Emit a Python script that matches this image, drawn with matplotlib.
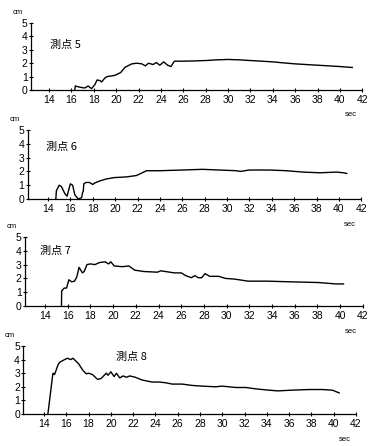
import matplotlib
matplotlib.use('Agg')
import matplotlib.pyplot as plt

plt.rcParams['font.family'] = ['Liberation Sans', 'DejaVu Sans']

# wave height records (sec, cm)
t5 = [16.3, 16.35, 16.8, 17.2, 17.5, 17.8, 18.1, 18.3, 18.55, 18.7, 19.0, 19.2,
      19.6, 19.9, 20.4, 20.8, 21.4, 21.85, 22.3, 22.6, 22.9, 23.3, 23.6, 23.9, 24.25,
      24.6, 24.9, 25.2, 26.0, 27.0, 28.0, 29.0, 30.0, 31.0, 32.0, 33.0, 34.0, 35.0,
      36.0, 37.0, 38.0, 39.0, 40.0, 41.1]
h5 = [0.0, 0.3, 0.2, 0.15, 0.3, 0.1, 0.4, 0.75, 0.7, 0.6, 0.9, 1.0,
      1.05, 1.1, 1.3, 1.7, 1.95, 2.0, 1.95, 1.8, 2.0, 1.9, 2.05, 1.85, 2.1,
      1.85, 1.75, 2.15, 2.15, 2.17, 2.2, 2.25, 2.28, 2.25, 2.2, 2.15, 2.1, 2.02,
      1.95, 1.9, 1.85, 1.8, 1.75, 1.68]

t6 = [14.7, 14.75, 15.0, 15.2, 15.5, 15.7, 16.0, 16.2, 16.4, 16.7, 17.0, 17.1,
      17.15, 17.2, 17.4, 17.7, 18.0, 18.15, 18.6, 19.2, 19.9, 21.0, 21.9, 22.3,
      22.8, 24.0, 26.0, 27.8, 29.3, 30.8, 31.2, 32.0, 33.8, 35.3, 36.8, 38.3,
      39.8, 40.4, 40.7]
h6 = [0.0, 0.6, 1.0, 0.9, 0.4, 0.2, 1.1, 1.0, 0.3, 0.0, 0.1, 0.5,
      0.55, 1.1, 1.2, 1.2, 1.05, 1.15, 1.3, 1.45, 1.55, 1.6, 1.7, 1.85,
      2.05, 2.05, 2.1, 2.15, 2.1, 2.05, 2.0, 2.1, 2.1, 2.05, 1.95, 1.9,
      1.95, 1.9, 1.85]

t7 = [15.45, 15.47, 15.7, 15.9, 16.1, 16.35, 16.6, 16.8, 17.0, 17.3, 17.45,
      17.7, 18.0, 18.4, 18.8, 19.3, 19.6, 19.8, 20.1, 20.8, 21.4, 21.9, 22.7,
      23.9, 24.2, 25.4, 26.0, 26.4, 26.9, 27.2, 27.5, 27.8, 28.1, 28.5, 29.3,
      29.9, 30.7, 31.9, 33.6, 35.7, 38.1, 39.6, 40.3]
h7 = [0.0, 1.1, 1.3, 1.3, 1.9, 1.75, 1.8, 2.1, 2.8, 2.4, 2.5,
      3.0, 3.05, 3.0, 3.15, 3.2, 3.05, 3.2, 2.9, 2.85, 2.9, 2.6, 2.5,
      2.45, 2.55, 2.4, 2.4, 2.2, 2.05, 2.2, 2.05, 2.05, 2.35, 2.15, 2.15,
      2.0, 1.95, 1.8, 1.8, 1.75, 1.7, 1.6, 1.6]

t8 = [14.35, 14.8, 14.95, 15.25, 15.4, 15.85, 16.1, 16.4, 16.6, 17.1, 17.5,
      17.8, 18.0, 18.35, 18.8, 19.1, 19.6, 19.75, 20.0, 20.3, 20.5, 20.8, 21.1,
      21.4, 21.7, 22.2, 22.8, 23.7, 24.3, 24.9, 25.5, 26.4, 27.3, 28.2, 29.4,
      30.0, 31.2, 32.1, 33.0, 34.2, 35.0, 36.2, 37.8, 39.0, 39.9, 40.5]
h8 = [0.0, 3.0, 2.9, 3.6, 3.8, 4.0, 4.1, 4.0, 4.1, 3.7, 3.2,
      2.95, 3.0, 2.9, 2.55, 2.6, 3.0, 2.85, 3.1, 2.75, 3.0, 2.65, 2.8,
      2.7, 2.8, 2.7, 2.5, 2.35, 2.35, 2.3, 2.2, 2.2, 2.1, 2.05, 2.0,
      2.05, 1.95, 1.95, 1.85, 1.75, 1.7, 1.75, 1.8, 1.8, 1.75, 1.55]

labels = ['測点 5', '測点 6', '測点 7', '測点 8']
label_pos = [(14.1, 3.4), (13.85, 3.75), (13.55, 4.0), (20.5, 4.2)]
series = [(t5, h5), (t6, h6), (t7, h7), (t8, h8)]
xticks = list(range(14, 43, 2))
yticks = [0, 1, 2, 3, 4, 5]

W, H = 373, 446
fig = plt.figure(figsize=(W / 100, H / 100), dpi=100)

# pixel layout per panel: x of "14", px per sec, left limit, y of 0, y of 5
layout = [(49, 11.19, 12.4, 90, 23),
          (48, 11.19, 12.2, 199, 130),
          (45, 11.35, 12.25, 306, 237),
          (44, 11.14, 12.15, 414, 346)]

for ii, (x14, sc, xl, y0, y5) in enumerate(layout):
    left = x14 - (14 - xl) * sc
    right = x14 + (42 - 14) * sc
    ax = fig.add_axes([left / W, 1 - y0 / H, (right - left) / W, (y0 - y5) / H])
    t, h = series[ii]
    ax.plot(t, h, c='k', lw=1.0)
    ax.set_xlim(xl, 42)
    ax.set_ylim(0, 5)
    ax.set_xticks(xticks)
    ax.set_yticks(yticks)
    ax.tick_params(axis='x', direction='inout', length=3, width=0.8,
                   labelsize=7.5, pad=2)
    ax.tick_params(axis='y', direction='inout', length=3, width=0.8,
                   labelsize=7.5, pad=1)
    ax.spines['right'].set_visible(False)
    ax.spines['top'].set_visible(False)
    ax.spines['left'].set_linewidth(0.9)
    ax.spines['bottom'].set_linewidth(0.9)
    ax.patch.set_alpha(0)
    ax.text(label_pos[ii][0], label_pos[ii][1], labels[ii], fontsize=8,
            va='center', ha='left',
            family=['Noto Sans CJK JP', 'DejaVu Sans'])
    ax.text(-0.04, 1.1, 'cm', fontsize=5.5, transform=ax.transAxes,
            ha='center', va='bottom')
    ax.text(0.965, -0.37, 'sec', fontsize=5.5, transform=ax.transAxes,
            ha='center', va='center')

fig.savefig('out.png', dpi=100)
